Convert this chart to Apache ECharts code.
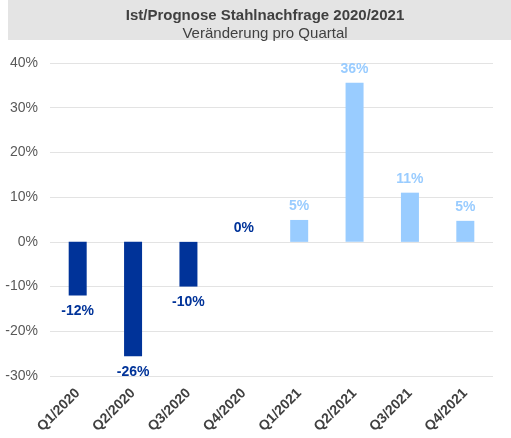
<!DOCTYPE html>
<html>
<head>
<meta charset="utf-8">
<script src="https://cdn.jsdelivr.net/npm/echarts@6/dist/echarts.min.js"></script>
<style>
  html, body { margin: 0; padding: 0; background: #ffffff; }
  #chart { width: 511px; height: 438px; }
</style>
</head>
<body>
<div id="chart"></div>
<script>
// Kategorien (Quartale)
const quarters = ['Q1/2020', 'Q2/2020', 'Q3/2020', 'Q4/2020', 'Q1/2021', 'Q2/2021', 'Q3/2021', 'Q4/2021']
// Veränderung pro Quartal in %
const changes = [-12, -25.6, -10, 0, 4.9, 35.6, 11, 4.7]
// Y-Achse
const yTicks = [-30, -20, -10, 0, 10, 20, 30, 40]

const darkBlue = '#003399'
const lightBlue = '#99ccff'

// 2020 = Ist (dunkel), 2021 = Prognose (hell)
const barData = changes.map(function (v, i) {
  const isForecast = quarters[i].indexOf('2021') !== -1
  const c = isForecast ? lightBlue : darkBlue
  return {
    value: v,
    itemStyle: { color: c },
    label: {
      color: c,
      position: v < 0 ? 'bottom' : 'top',
      distance: v < 0 ? 9 : 7
    }
  }
})

const myChart = echarts.init(document.getElementById('chart'))
myChart.setOption({
  animation: false,
  backgroundColor: '#ffffff',
  textStyle: { fontFamily: '"Liberation Sans", Arial, sans-serif' },
  graphic: [
    {
      type: 'rect',
      shape: { x: 8, y: 0, width: 503, height: 40 },
      style: { fill: '#e4e4e4' },
      z: -1
    }
  ],
  title: {
    text: 'Ist/Prognose Stahlnachfrage 2020/2021',
    subtext: 'Veränderung pro Quartal',
    left: 260,
    textAlign: 'center',
    top: 3,
    itemGap: 3,
    textStyle: { fontSize: 15, fontWeight: 'bold', color: '#404040', fontFamily: '"Liberation Sans", Arial, sans-serif' },
    subtextStyle: { fontSize: 15, color: '#404040', fontFamily: '"Liberation Sans", Arial, sans-serif' }
  },
  grid: { left: 50, right: 18, top: 63, bottom: 62 },
  xAxis: {
    type: 'category',
    data: quarters,
    axisLine: { show: false },
    axisTick: { show: false },
    axisLabel: {
      rotate: 45,
      interval: 0,
      margin: 15,
      fontSize: 14,
      fontWeight: 'bold',
      color: '#404040'
    }
  },
  yAxis: {
    type: 'value',
    min: yTicks[0],
    max: yTicks[yTicks.length - 1],
    interval: 10,
    axisLine: { show: false },
    axisTick: { show: false },
    axisLabel: {
      margin: 12,
      fontSize: 14,
      color: '#595959',
      formatter: function (v) { return v + '%' }
    },
    splitLine: { lineStyle: { color: '#e3e3e3', width: 1 } }
  },
  series: [
    {
      type: 'bar',
      barWidth: 18,
      data: barData,
      label: {
        show: true,
        fontSize: 14,
        fontWeight: 'bold',
        formatter: function (p) { return Math.round(p.value) + '%' }
      }
    }
  ]
})
</script>
</body>
</html>
